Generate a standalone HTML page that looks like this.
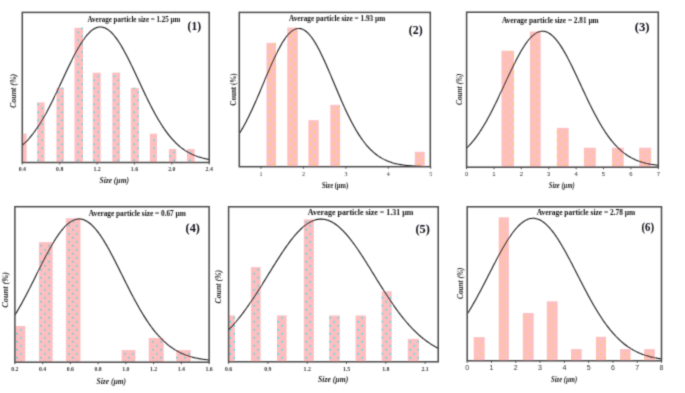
<!DOCTYPE html>
<html><head><meta charset="utf-8"><title>Particle size distributions</title>
<style>
html,body{margin:0;padding:0;background:#fff;width:685px;height:393px;overflow:hidden;}
svg{display:block;font-family:"Liberation Serif",serif;}
</style></head><body>
<svg width="685" height="393" viewBox="0 0 685 393"><defs><pattern id="p1" patternUnits="userSpaceOnUse" width="8" height="8" x="5.7" y="-0.2"><rect width="8" height="8" fill="#fdbfc0"/><circle cx="0.5" cy="0.5" r="0.95" fill="#18d8ea"/><circle cx="4.5" cy="4.5" r="0.95" fill="#18d8ea"/><circle cx="8.5" cy="0.5" r="0.95" fill="#18d8ea"/><circle cx="0.5" cy="8.5" r="0.95" fill="#18d8ea"/><circle cx="8.5" cy="8.5" r="0.95" fill="#18d8ea"/></pattern><pattern id="p2" patternUnits="userSpaceOnUse" width="8" height="8" x="5.8" y="-0.3"><rect width="8" height="8" fill="#fdbfc0"/><circle cx="0.5" cy="0.5" r="0.95" fill="#ffd02a"/><circle cx="4.5" cy="4.5" r="0.95" fill="#ffd02a"/><circle cx="8.5" cy="0.5" r="0.95" fill="#ffd02a"/><circle cx="0.5" cy="8.5" r="0.95" fill="#ffd02a"/><circle cx="8.5" cy="8.5" r="0.95" fill="#ffd02a"/></pattern><pattern id="p3" patternUnits="userSpaceOnUse" width="8" height="8" x="0.9" y="-0.3"><rect width="8" height="8" fill="#fdbfc0"/><circle cx="0.5" cy="0.5" r="0.95" fill="#ffd02a"/><circle cx="4.5" cy="4.5" r="0.95" fill="#ffd02a"/><circle cx="8.5" cy="0.5" r="0.95" fill="#ffd02a"/><circle cx="0.5" cy="8.5" r="0.95" fill="#ffd02a"/><circle cx="8.5" cy="8.5" r="0.95" fill="#ffd02a"/></pattern><pattern id="p4" patternUnits="userSpaceOnUse" width="8" height="8" x="4.5" y="1.2"><rect width="8" height="8" fill="#fdbfc0"/><circle cx="0.5" cy="0.5" r="0.95" fill="#30d0e0"/><circle cx="4.5" cy="4.5" r="0.95" fill="#30d0e0"/><circle cx="8.5" cy="0.5" r="0.95" fill="#30d0e0"/><circle cx="0.5" cy="8.5" r="0.95" fill="#30d0e0"/><circle cx="8.5" cy="8.5" r="0.95" fill="#30d0e0"/></pattern><pattern id="p5" patternUnits="userSpaceOnUse" width="8" height="8" x="5.8" y="1.2"><rect width="8" height="8" fill="#fdbfc0"/><circle cx="0.5" cy="0.5" r="0.95" fill="#18d8ea"/><circle cx="4.5" cy="4.5" r="0.95" fill="#18d8ea"/><circle cx="8.5" cy="0.5" r="0.95" fill="#18d8ea"/><circle cx="0.5" cy="8.5" r="0.95" fill="#18d8ea"/><circle cx="8.5" cy="8.5" r="0.95" fill="#18d8ea"/></pattern><pattern id="p6" patternUnits="userSpaceOnUse" width="8" height="8" x="0.8" y="1.2"><rect width="8" height="8" fill="#fdbfc0"/><circle cx="0.5" cy="0.5" r="0.95" fill="#ffd02a"/><circle cx="4.5" cy="4.5" r="0.95" fill="#ffd02a"/><circle cx="8.5" cy="0.5" r="0.95" fill="#ffd02a"/><circle cx="0.5" cy="8.5" r="0.95" fill="#ffd02a"/><circle cx="8.5" cy="8.5" r="0.95" fill="#ffd02a"/></pattern><clipPath id="cl1"><rect x="22.3" y="12.4" width="186.89999999999998" height="150.1"/></clipPath><clipPath id="cl2"><rect x="239.3" y="12.4" width="191.0" height="154.29999999999998"/></clipPath><clipPath id="cl3"><rect x="466.6" y="12.2" width="191.69999999999993" height="155.0"/></clipPath><clipPath id="cl4"><rect x="14.9" y="206.7" width="194.2" height="155.5"/></clipPath><clipPath id="cl5"><rect x="228.6" y="206.8" width="209.6" height="155.0"/></clipPath><clipPath id="cl6"><rect x="467.2" y="206.8" width="194.3" height="154.0"/></clipPath><filter id="bl" filterUnits="userSpaceOnUse" x="0" y="0" width="685" height="393"><feConvolveMatrix order="3" kernelMatrix="0.02560 0.10880 0.02560 0.10880 0.46240 0.10880 0.02560 0.10880 0.02560" divisor="1"/></filter></defs><rect width="685" height="393" fill="#fff"/><g filter="url(#bl)"><g clip-path="url(#cl1)">
<rect x="22.30" y="133.60" width="4.30" height="28.90" fill="#fdbfc0"/>
<rect x="37.20" y="102.40" width="7.40" height="60.10" fill="#fdbfc0"/>
<rect x="56.50" y="87.70" width="7.40" height="74.80" fill="#fdbfc0"/>
<rect x="74.50" y="27.80" width="8.50" height="134.70" fill="#fdbfc0"/>
<rect x="92.70" y="72.70" width="8.00" height="89.80" fill="#fdbfc0"/>
<rect x="112.30" y="72.60" width="7.70" height="89.90" fill="#fdbfc0"/>
<rect x="130.80" y="87.90" width="8.00" height="74.60" fill="#fdbfc0"/>
<rect x="149.80" y="133.70" width="7.20" height="28.80" fill="#fdbfc0"/>
<rect x="168.90" y="149.00" width="7.40" height="13.50" fill="#fdbfc0"/>
<rect x="186.90" y="149.00" width="7.70" height="13.50" fill="#fdbfc0"/>
<path d="M38.2 104.3h0M38.2 112.3h0M38.2 120.3h0M38.2 128.3h0M38.2 136.3h0M38.2 144.3h0M38.2 152.3h0M38.2 160.3h0M42.2 108.3h0M42.2 116.3h0M42.2 124.3h0M42.2 132.3h0M42.2 140.3h0M42.2 148.3h0M42.2 156.3h0M62.2 88.3h0M62.2 96.3h0M62.2 104.3h0M62.2 112.3h0M62.2 120.3h0M62.2 128.3h0M62.2 136.3h0M62.2 144.3h0M62.2 152.3h0M62.2 160.3h0M58.2 92.3h0M58.2 100.3h0M58.2 108.3h0M58.2 116.3h0M58.2 124.3h0M58.2 132.3h0M58.2 140.3h0M58.2 148.3h0M58.2 156.3h0M78.2 32.3h0M78.2 40.3h0M78.2 48.3h0M78.2 56.3h0M78.2 64.3h0M78.2 72.3h0M78.2 80.3h0M78.2 88.3h0M78.2 96.3h0M78.2 104.3h0M78.2 112.3h0M78.2 120.3h0M78.2 128.3h0M78.2 136.3h0M78.2 144.3h0M78.2 152.3h0M78.2 160.3h0M82.2 28.3h0M82.2 36.3h0M82.2 44.3h0M82.2 52.3h0M82.2 60.3h0M82.2 68.3h0M82.2 76.3h0M82.2 84.3h0M82.2 92.3h0M82.2 100.3h0M82.2 108.3h0M82.2 116.3h0M82.2 124.3h0M82.2 132.3h0M82.2 140.3h0M82.2 148.3h0M82.2 156.3h0M94.2 80.3h0M94.2 88.3h0M94.2 96.3h0M94.2 104.3h0M94.2 112.3h0M94.2 120.3h0M94.2 128.3h0M94.2 136.3h0M94.2 144.3h0M94.2 152.3h0M94.2 160.3h0M98.2 76.3h0M98.2 84.3h0M98.2 92.3h0M98.2 100.3h0M98.2 108.3h0M98.2 116.3h0M98.2 124.3h0M98.2 132.3h0M98.2 140.3h0M98.2 148.3h0M98.2 156.3h0M118.2 80.3h0M118.2 88.3h0M118.2 96.3h0M118.2 104.3h0M118.2 112.3h0M118.2 120.3h0M118.2 128.3h0M118.2 136.3h0M118.2 144.3h0M118.2 152.3h0M118.2 160.3h0M114.2 76.3h0M114.2 84.3h0M114.2 92.3h0M114.2 100.3h0M114.2 108.3h0M114.2 116.3h0M114.2 124.3h0M114.2 132.3h0M114.2 140.3h0M114.2 148.3h0M114.2 156.3h0M134.2 88.3h0M134.2 96.3h0M134.2 104.3h0M134.2 112.3h0M134.2 120.3h0M134.2 128.3h0M134.2 136.3h0M134.2 144.3h0M134.2 152.3h0M134.2 160.3h0M138.2 92.3h0M138.2 100.3h0M138.2 108.3h0M138.2 116.3h0M138.2 124.3h0M138.2 132.3h0M138.2 140.3h0M138.2 148.3h0M138.2 156.3h0M154.2 140.3h0M154.2 148.3h0M154.2 156.3h0M174.2 152.3h0M174.2 160.3h0M170.2 156.3h0M190.2 152.3h0M190.2 160.3h0" stroke="#18d8ea" stroke-width="1.7" stroke-linecap="round"/>
<polyline points="22.30,145.35 23.23,144.51 24.17,143.64 25.10,142.73 26.04,141.79 26.97,140.82 27.91,139.81 28.84,138.77 29.78,137.69 30.71,136.57 31.64,135.43 32.58,134.24 33.51,133.02 34.45,131.76 35.38,130.47 36.32,129.14 37.25,127.77 38.19,126.37 39.12,124.93 40.06,123.45 40.99,121.95 41.92,120.40 42.86,118.82 43.79,117.21 44.73,115.57 45.66,113.89 46.60,112.19 47.53,110.45 48.47,108.68 49.40,106.89 50.33,105.07 51.27,103.23 52.20,101.36 53.14,99.47 54.07,97.56 55.01,95.63 55.94,93.68 56.88,91.72 57.81,89.74 58.75,87.76 59.68,85.76 60.61,83.76 61.55,81.76 62.48,79.75 63.42,77.74 64.35,75.74 65.29,73.74 66.22,71.74 67.16,69.76 68.09,67.79 69.02,65.84 69.96,63.91 70.89,62.00 71.83,60.11 72.76,58.24 73.70,56.41 74.63,54.61 75.57,52.85 76.50,51.12 77.44,49.43 78.37,47.79 79.30,46.19 80.24,44.64 81.17,43.14 82.11,41.70 83.04,40.31 83.98,38.97 84.91,37.70 85.85,36.49 86.78,35.35 87.71,34.27 88.65,33.26 89.58,32.32 90.52,31.46 91.45,30.66 92.39,29.94 93.32,29.30 94.26,28.74 95.19,28.25 96.13,27.84 97.06,27.51 97.99,27.26 98.93,27.10 99.86,27.01 100.80,27.01 101.73,27.09 102.67,27.24 103.60,27.48 104.54,27.80 105.47,28.20 106.40,28.68 107.34,29.24 108.27,29.87 109.21,30.58 110.14,31.37 111.08,32.23 112.01,33.16 112.95,34.16 113.88,35.23 114.82,36.37 115.75,37.57 116.68,38.84 117.62,40.16 118.55,41.55 119.49,42.99 120.42,44.48 121.36,46.02 122.29,47.62 123.23,49.26 124.16,50.94 125.09,52.66 126.03,54.42 126.96,56.22 127.90,58.05 128.83,59.91 129.77,61.79 130.70,63.71 131.64,65.64 132.57,67.59 133.51,69.55 134.44,71.53 135.37,73.53 136.31,75.52 137.24,77.53 138.18,79.54 139.11,81.54 140.05,83.55 140.98,85.55 141.92,87.55 142.85,89.54 143.78,91.51 144.72,93.48 145.65,95.42 146.59,97.36 147.52,99.27 148.46,101.16 149.39,103.03 150.33,104.88 151.26,106.70 152.20,108.50 153.13,110.27 154.06,112.01 155.00,113.72 155.93,115.39 156.87,117.04 157.80,118.66 158.74,120.24 159.67,121.78 160.61,123.30 161.54,124.77 162.47,126.22 163.41,127.62 164.34,128.99 165.28,130.33 166.21,131.63 167.15,132.89 168.08,134.11 169.02,135.30 169.95,136.45 170.89,137.57 171.82,138.65 172.75,139.70 173.69,140.71 174.62,141.69 175.56,142.63 176.49,143.54 177.43,144.42 178.36,145.26 179.30,146.07 180.23,146.86 181.16,147.61 182.10,148.33 183.03,149.02 183.97,149.68 184.90,150.32 185.84,150.92 186.77,151.51 187.71,152.06 188.64,152.59 189.58,153.10 190.51,153.58 191.44,154.04 192.38,154.48 193.31,154.90 194.25,155.30 195.18,155.68 196.12,156.03 197.05,156.37 197.99,156.70 198.92,157.00 199.85,157.29 200.79,157.57 201.72,157.83 202.66,158.07 203.59,158.31 204.53,158.52 205.46,158.73 206.40,158.93 207.33,159.11 208.27,159.28 209.20,159.44" fill="none" stroke="#111111" stroke-width="1.05"/>
</g>
<rect x="22.3" y="12.4" width="186.89999999999998" height="150.1" fill="none" stroke="#4a4a4a" stroke-width="1.5"/>
<line x1="22.30" y1="162.5" x2="22.30" y2="164.5" stroke="#4a4a4a" stroke-width="1"/>
<line x1="59.68" y1="162.5" x2="59.68" y2="164.5" stroke="#4a4a4a" stroke-width="1"/>
<line x1="97.06" y1="162.5" x2="97.06" y2="164.5" stroke="#4a4a4a" stroke-width="1"/>
<line x1="134.44" y1="162.5" x2="134.44" y2="164.5" stroke="#4a4a4a" stroke-width="1"/>
<line x1="171.82" y1="162.5" x2="171.82" y2="164.5" stroke="#4a4a4a" stroke-width="1"/>
<line x1="209.20" y1="162.5" x2="209.20" y2="164.5" stroke="#4a4a4a" stroke-width="1"/>
<text x="22.30" y="170.8" text-anchor="middle" font-family="Liberation Serif" font-weight="bold" font-size="5.8" fill="#333">0.4</text>
<text x="59.68" y="170.8" text-anchor="middle" font-family="Liberation Serif" font-weight="bold" font-size="5.8" fill="#333">0.8</text>
<text x="97.06" y="170.8" text-anchor="middle" font-family="Liberation Serif" font-weight="bold" font-size="5.8" fill="#333">1.2</text>
<text x="134.44" y="170.8" text-anchor="middle" font-family="Liberation Serif" font-weight="bold" font-size="5.8" fill="#333">1.6</text>
<text x="171.82" y="170.8" text-anchor="middle" font-family="Liberation Serif" font-weight="bold" font-size="5.8" fill="#333">2.0</text>
<text x="209.20" y="170.8" text-anchor="middle" font-family="Liberation Serif" font-weight="bold" font-size="5.8" fill="#333">2.4</text>
<text x="87.6" y="21.9" textLength="92.70000000000002" lengthAdjust="spacingAndGlyphs" font-family="Liberation Serif" font-weight="bold" font-size="8.6" fill="#111">Average particle size = 1.25 µm</text>
<text x="187.6" y="29.7" textLength="13.400000000000006" lengthAdjust="spacingAndGlyphs" font-family="Liberation Serif" font-weight="bold" font-size="13" fill="#0a0a14">(1)</text>
<text transform="translate(13.3,90.9) rotate(-90)" x="0" y="2.6" text-anchor="middle" textLength="34" lengthAdjust="spacingAndGlyphs" font-family="Liberation Serif" font-weight="bold" font-style="italic" font-size="8" fill="#222">Count (%)</text>
<text x="99.5" y="183.0" textLength="29.5" lengthAdjust="spacingAndGlyphs" font-family="Liberation Serif" font-weight="bold" font-style="italic" font-size="8" fill="#222">Size (µm)</text>
<g clip-path="url(#cl2)">
<rect x="266.50" y="42.90" width="9.50" height="123.80" fill="#fdbfc0"/>
<rect x="287.30" y="27.60" width="10.50" height="139.10" fill="#fdbfc0"/>
<rect x="308.40" y="120.20" width="10.30" height="46.50" fill="#fdbfc0"/>
<rect x="330.30" y="104.90" width="9.80" height="61.80" fill="#fdbfc0"/>
<rect x="414.80" y="151.80" width="9.90" height="14.90" fill="#fdbfc0"/>
<path d="M270.3 48.2h0M270.3 56.2h0M270.3 64.2h0M270.3 72.2h0M270.3 80.2h0M270.3 88.2h0M270.3 96.2h0M270.3 104.2h0M270.3 112.2h0M270.3 120.2h0M270.3 128.2h0M270.3 136.2h0M270.3 144.2h0M270.3 152.2h0M270.3 160.2h0M274.3 44.2h0M274.3 52.2h0M274.3 60.2h0M274.3 68.2h0M274.3 76.2h0M274.3 84.2h0M274.3 92.2h0M274.3 100.2h0M274.3 108.2h0M274.3 116.2h0M274.3 124.2h0M274.3 132.2h0M274.3 140.2h0M274.3 148.2h0M274.3 156.2h0M274.3 164.2h0M294.3 32.2h0M294.3 40.2h0M294.3 48.2h0M294.3 56.2h0M294.3 64.2h0M294.3 72.2h0M294.3 80.2h0M294.3 88.2h0M294.3 96.2h0M294.3 104.2h0M294.3 112.2h0M294.3 120.2h0M294.3 128.2h0M294.3 136.2h0M294.3 144.2h0M294.3 152.2h0M294.3 160.2h0M290.3 36.2h0M290.3 44.2h0M290.3 52.2h0M290.3 60.2h0M290.3 68.2h0M290.3 76.2h0M290.3 84.2h0M290.3 92.2h0M290.3 100.2h0M290.3 108.2h0M290.3 116.2h0M290.3 124.2h0M290.3 132.2h0M290.3 140.2h0M290.3 148.2h0M290.3 156.2h0M290.3 164.2h0M310.3 128.2h0M310.3 136.2h0M310.3 144.2h0M310.3 152.2h0M310.3 160.2h0M314.3 124.2h0M314.3 132.2h0M314.3 140.2h0M314.3 148.2h0M314.3 156.2h0M314.3 164.2h0M334.3 112.2h0M334.3 120.2h0M334.3 128.2h0M334.3 136.2h0M334.3 144.2h0M334.3 152.2h0M334.3 160.2h0M338.3 108.2h0M338.3 116.2h0M338.3 124.2h0M338.3 132.2h0M338.3 140.2h0M338.3 148.2h0M338.3 156.2h0M338.3 164.2h0M422.3 160.2h0M418.3 156.2h0M418.3 164.2h0" stroke="#ffd02a" stroke-width="1.7" stroke-linecap="round"/>
<polyline points="239.30,133.63 240.26,132.09 241.21,130.50 242.17,128.87 243.12,127.19 244.08,125.47 245.03,123.71 245.99,121.90 246.94,120.05 247.90,118.16 248.85,116.24 249.81,114.27 250.76,112.27 251.72,110.23 252.67,108.17 253.62,106.07 254.58,103.94 255.54,101.78 256.49,99.60 257.44,97.40 258.40,95.18 259.36,92.94 260.31,90.68 261.26,88.42 262.22,86.15 263.18,83.87 264.13,81.60 265.09,79.32 266.04,77.05 267.00,74.79 267.95,72.54 268.91,70.30 269.86,68.09 270.81,65.90 271.77,63.74 272.73,61.61 273.68,59.51 274.63,57.46 275.59,55.44 276.55,53.47 277.50,51.56 278.46,49.69 279.41,47.89 280.37,46.14 281.32,44.46 282.28,42.85 283.23,41.31 284.19,39.84 285.14,38.45 286.10,37.14 287.05,35.92 288.00,34.78 288.96,33.73 289.92,32.77 290.87,31.90 291.82,31.13 292.78,30.45 293.74,29.87 294.69,29.39 295.64,29.01 296.60,28.73 297.56,28.55 298.51,28.47 299.47,28.50 300.42,28.63 301.38,28.85 302.33,29.19 303.29,29.62 304.24,30.15 305.19,30.77 306.15,31.50 307.11,32.32 308.06,33.23 309.01,34.24 309.97,35.34 310.93,36.52 311.88,37.79 312.84,39.13 313.79,40.56 314.75,42.07 315.70,43.64 316.66,45.29 317.61,47.00 318.56,48.78 319.52,50.61 320.48,52.50 321.43,54.45 322.38,56.44 323.34,58.47 324.30,60.55 325.25,62.66 326.21,64.81 327.16,66.99 328.12,69.19 329.07,71.41 330.02,73.65 330.98,75.91 331.94,78.18 332.89,80.45 333.85,82.73 334.80,85.01 335.75,87.28 336.71,89.55 337.67,91.81 338.62,94.05 339.58,96.28 340.53,98.50 341.49,100.69 342.44,102.86 343.39,105.00 344.35,107.11 345.31,109.20 346.26,111.25 347.22,113.27 348.17,115.25 349.12,117.20 350.08,119.11 351.04,120.98 351.99,122.80 352.94,124.59 353.90,126.33 354.86,128.03 355.81,129.69 356.76,131.30 357.72,132.86 358.68,134.38 359.63,135.85 360.59,137.28 361.54,138.67 362.50,140.00 363.45,141.30 364.41,142.55 365.36,143.75 366.31,144.91 367.27,146.03 368.23,147.10 369.18,148.13 370.13,149.12 371.09,150.07 372.05,150.98 373.00,151.85 373.96,152.69 374.91,153.48 375.87,154.24 376.82,154.97 377.77,155.66 378.73,156.32 379.69,156.94 380.64,157.54 381.60,158.10 382.55,158.64 383.50,159.15 384.46,159.63 385.42,160.08 386.37,160.52 387.33,160.92 388.28,161.31 389.24,161.67 390.19,162.01 391.14,162.33 392.10,162.64 393.06,162.92 394.01,163.19 394.97,163.44 395.92,163.67 396.88,163.89 397.83,164.10 398.79,164.29 399.74,164.47 400.70,164.64 401.65,164.80 402.61,164.94 403.56,165.08 404.51,165.21 405.47,165.32 406.43,165.43 407.38,165.53 408.34,165.63 409.29,165.72 410.25,165.80 411.20,165.87 412.15,165.94 413.11,166.00 414.06,166.06 415.02,166.12 415.98,166.17 416.93,166.21 417.88,166.26 418.84,166.30 419.80,166.33 420.75,166.37 421.71,166.40 422.66,166.42 423.62,166.45 424.57,166.47 425.52,166.49 426.48,166.51 427.44,166.53 428.39,166.55 429.35,166.56 430.30,166.57" fill="none" stroke="#111111" stroke-width="1.05"/>
</g>
<rect x="239.3" y="12.4" width="191.0" height="154.29999999999998" fill="none" stroke="#4a4a4a" stroke-width="1.5"/>
<line x1="261.00" y1="166.7" x2="261.00" y2="168.7" stroke="#4a4a4a" stroke-width="1"/>
<line x1="303.45" y1="166.7" x2="303.45" y2="168.7" stroke="#4a4a4a" stroke-width="1"/>
<line x1="345.90" y1="166.7" x2="345.90" y2="168.7" stroke="#4a4a4a" stroke-width="1"/>
<line x1="388.35" y1="166.7" x2="388.35" y2="168.7" stroke="#4a4a4a" stroke-width="1"/>
<line x1="430.80" y1="166.7" x2="430.80" y2="168.7" stroke="#4a4a4a" stroke-width="1"/>
<text x="261.00" y="175.6" text-anchor="middle" font-family="Liberation Serif" font-size="6" fill="#333">1</text>
<text x="303.45" y="175.6" text-anchor="middle" font-family="Liberation Serif" font-size="6" fill="#333">2</text>
<text x="345.90" y="175.6" text-anchor="middle" font-family="Liberation Serif" font-size="6" fill="#333">3</text>
<text x="388.35" y="175.6" text-anchor="middle" font-family="Liberation Serif" font-size="6" fill="#333">4</text>
<text x="430.80" y="175.6" text-anchor="middle" font-family="Liberation Serif" font-size="6" fill="#333">5</text>
<text x="289.0" y="20.7" textLength="96.19999999999999" lengthAdjust="spacingAndGlyphs" font-family="Liberation Serif" font-weight="bold" font-size="8.6" fill="#111">Average particle size = 1.93 µm</text>
<text x="408.8" y="33.6" textLength="13.800000000000011" lengthAdjust="spacingAndGlyphs" font-family="Liberation Serif" font-weight="bold" font-size="13" fill="#0a0a14">(2)</text>
<text transform="translate(233.0,89.5) rotate(-90)" x="0" y="2.6" text-anchor="middle" textLength="32.4" lengthAdjust="spacingAndGlyphs" font-family="Liberation Serif" font-weight="bold"  font-size="8" fill="#222">Count (%)</text>
<text x="321.9" y="188.2" textLength="26.30000000000001" lengthAdjust="spacingAndGlyphs" font-family="Liberation Serif" font-weight="bold"  font-size="8" fill="#222">Size (µm)</text>
<g clip-path="url(#cl3)">
<rect x="501.50" y="50.70" width="12.50" height="116.50" fill="#fdbfc0"/>
<rect x="529.90" y="31.60" width="10.80" height="135.60" fill="#fdbfc0"/>
<rect x="556.90" y="127.90" width="11.80" height="39.30" fill="#fdbfc0"/>
<rect x="583.90" y="147.70" width="11.90" height="19.50" fill="#fdbfc0"/>
<rect x="612.00" y="147.70" width="11.70" height="19.50" fill="#fdbfc0"/>
<rect x="639.20" y="147.70" width="11.90" height="19.50" fill="#fdbfc0"/>
<path d="M505.4 56.2h0M505.4 64.2h0M505.4 72.2h0M505.4 80.2h0M505.4 88.2h0M505.4 96.2h0M505.4 104.2h0M505.4 112.2h0M505.4 120.2h0M505.4 128.2h0M505.4 136.2h0M505.4 144.2h0M505.4 152.2h0M505.4 160.2h0M513.4 56.2h0M513.4 64.2h0M513.4 72.2h0M513.4 80.2h0M513.4 88.2h0M513.4 96.2h0M513.4 104.2h0M513.4 112.2h0M513.4 120.2h0M513.4 128.2h0M513.4 136.2h0M513.4 144.2h0M513.4 152.2h0M513.4 160.2h0M509.4 52.2h0M509.4 60.2h0M509.4 68.2h0M509.4 76.2h0M509.4 84.2h0M509.4 92.2h0M509.4 100.2h0M509.4 108.2h0M509.4 116.2h0M509.4 124.2h0M509.4 132.2h0M509.4 140.2h0M509.4 148.2h0M509.4 156.2h0M509.4 164.2h0M537.4 40.2h0M537.4 48.2h0M537.4 56.2h0M537.4 64.2h0M537.4 72.2h0M537.4 80.2h0M537.4 88.2h0M537.4 96.2h0M537.4 104.2h0M537.4 112.2h0M537.4 120.2h0M537.4 128.2h0M537.4 136.2h0M537.4 144.2h0M537.4 152.2h0M537.4 160.2h0M533.4 36.2h0M533.4 44.2h0M533.4 52.2h0M533.4 60.2h0M533.4 68.2h0M533.4 76.2h0M533.4 84.2h0M533.4 92.2h0M533.4 100.2h0M533.4 108.2h0M533.4 116.2h0M533.4 124.2h0M533.4 132.2h0M533.4 140.2h0M533.4 148.2h0M533.4 156.2h0M533.4 164.2h0M561.4 136.2h0M561.4 144.2h0M561.4 152.2h0M561.4 160.2h0M557.4 132.2h0M557.4 140.2h0M557.4 148.2h0M557.4 156.2h0M557.4 164.2h0M565.4 132.2h0M565.4 140.2h0M565.4 148.2h0M565.4 156.2h0M565.4 164.2h0M585.4 152.2h0M585.4 160.2h0M593.4 152.2h0M593.4 160.2h0M589.4 156.2h0M589.4 164.2h0M617.4 152.2h0M617.4 160.2h0M613.4 156.2h0M613.4 164.2h0M621.4 156.2h0M621.4 164.2h0M641.4 152.2h0M641.4 160.2h0M649.4 152.2h0M649.4 160.2h0M645.4 156.2h0M645.4 164.2h0" stroke="#ffd02a" stroke-width="1.7" stroke-linecap="round"/>
<polyline points="466.60,148.18 467.56,147.23 468.52,146.25 469.48,145.23 470.43,144.18 471.39,143.09 472.35,141.96 473.31,140.79 474.27,139.59 475.23,138.35 476.19,137.07 477.14,135.75 478.10,134.39 479.06,132.99 480.02,131.56 480.98,130.09 481.94,128.58 482.89,127.03 483.85,125.45 484.81,123.83 485.77,122.17 486.73,120.48 487.69,118.76 488.65,117.00 489.60,115.21 490.56,113.39 491.52,111.54 492.48,109.67 493.44,107.76 494.40,105.84 495.36,103.88 496.31,101.91 497.27,99.92 498.23,97.91 499.19,95.88 500.15,93.84 501.11,91.79 502.06,89.73 503.02,87.67 503.98,85.60 504.94,83.52 505.90,81.45 506.86,79.39 507.82,77.33 508.77,75.28 509.73,73.24 510.69,71.22 511.65,69.21 512.61,67.23 513.57,65.27 514.52,63.34 515.48,61.44 516.44,59.57 517.40,57.74 518.36,55.94 519.32,54.19 520.28,52.48 521.23,50.83 522.19,49.22 523.15,47.66 524.11,46.16 525.07,44.72 526.03,43.34 526.99,42.03 527.94,40.78 528.90,39.60 529.86,38.49 530.82,37.45 531.78,36.48 532.74,35.60 533.69,34.79 534.65,34.06 535.61,33.41 536.57,32.84 537.53,32.35 538.49,31.95 539.45,31.64 540.40,31.41 541.36,31.26 542.32,31.20 543.28,31.23 544.24,31.34 545.20,31.54 546.16,31.83 547.11,32.19 548.07,32.65 549.03,33.19 549.99,33.80 550.95,34.51 551.91,35.29 552.87,36.14 553.82,37.08 554.78,38.09 555.74,39.17 556.70,40.33 557.66,41.55 558.62,42.85 559.57,44.20 560.53,45.62 561.49,47.10 562.45,48.63 563.41,50.22 564.37,51.86 565.33,53.55 566.28,55.29 567.24,57.06 568.20,58.88 569.16,60.74 570.12,62.63 571.08,64.55 572.03,66.50 572.99,68.47 573.95,70.47 574.91,72.49 575.87,74.52 576.83,76.56 577.79,78.62 578.74,80.68 579.70,82.75 580.66,84.82 581.62,86.90 582.58,88.96 583.54,91.03 584.50,93.08 585.45,95.12 586.41,97.15 587.37,99.17 588.33,101.17 589.29,103.15 590.25,105.11 591.20,107.05 592.16,108.96 593.12,110.85 594.08,112.71 595.04,114.54 596.00,116.34 596.96,118.11 597.91,119.84 598.87,121.55 599.83,123.22 600.79,124.85 601.75,126.45 602.71,128.01 603.67,129.53 604.62,131.02 605.58,132.46 606.54,133.88 607.50,135.25 608.46,136.58 609.42,137.88 610.38,139.13 611.33,140.35 612.29,141.53 613.25,142.67 614.21,143.78 615.17,144.85 616.13,145.88 617.08,146.87 618.04,147.83 619.00,148.75 619.96,149.64 620.92,150.50 621.88,151.32 622.84,152.11 623.79,152.87 624.75,153.59 625.71,154.29 626.67,154.95 627.63,155.59 628.59,156.20 629.54,156.78 630.50,157.33 631.46,157.86 632.42,158.36 633.38,158.84 634.34,159.30 635.30,159.73 636.25,160.15 637.21,160.54 638.17,160.91 639.13,161.26 640.09,161.59 641.05,161.91 642.01,162.21 642.96,162.49 643.92,162.76 644.88,163.01 645.84,163.24 646.80,163.47 647.76,163.68 648.71,163.88 649.67,164.06 650.63,164.24 651.59,164.40 652.55,164.56 653.51,164.70 654.47,164.84 655.42,164.96 656.38,165.08 657.34,165.19 658.30,165.30" fill="none" stroke="#111111" stroke-width="1.05"/>
</g>
<rect x="466.6" y="12.2" width="191.69999999999993" height="155.0" fill="none" stroke="#4a4a4a" stroke-width="1.5"/>
<line x1="466.60" y1="167.2" x2="466.60" y2="169.2" stroke="#4a4a4a" stroke-width="1"/>
<line x1="493.99" y1="167.2" x2="493.99" y2="169.2" stroke="#4a4a4a" stroke-width="1"/>
<line x1="521.37" y1="167.2" x2="521.37" y2="169.2" stroke="#4a4a4a" stroke-width="1"/>
<line x1="548.76" y1="167.2" x2="548.76" y2="169.2" stroke="#4a4a4a" stroke-width="1"/>
<line x1="576.14" y1="167.2" x2="576.14" y2="169.2" stroke="#4a4a4a" stroke-width="1"/>
<line x1="603.53" y1="167.2" x2="603.53" y2="169.2" stroke="#4a4a4a" stroke-width="1"/>
<line x1="630.91" y1="167.2" x2="630.91" y2="169.2" stroke="#4a4a4a" stroke-width="1"/>
<line x1="658.30" y1="167.2" x2="658.30" y2="169.2" stroke="#4a4a4a" stroke-width="1"/>
<text x="466.60" y="175.5" text-anchor="middle" font-family="Liberation Sans" font-size="6" fill="#333">0</text>
<text x="493.99" y="175.5" text-anchor="middle" font-family="Liberation Sans" font-size="6" fill="#333">1</text>
<text x="521.37" y="175.5" text-anchor="middle" font-family="Liberation Sans" font-size="6" fill="#333">2</text>
<text x="548.76" y="175.5" text-anchor="middle" font-family="Liberation Sans" font-size="6" fill="#333">3</text>
<text x="576.14" y="175.5" text-anchor="middle" font-family="Liberation Sans" font-size="6" fill="#333">4</text>
<text x="603.53" y="175.5" text-anchor="middle" font-family="Liberation Sans" font-size="6" fill="#333">5</text>
<text x="630.91" y="175.5" text-anchor="middle" font-family="Liberation Sans" font-size="6" fill="#333">6</text>
<text x="658.30" y="175.5" text-anchor="middle" font-family="Liberation Sans" font-size="6" fill="#333">7</text>
<text x="501.9" y="22.8" textLength="96.80000000000007" lengthAdjust="spacingAndGlyphs" font-family="Liberation Serif" font-weight="bold" font-size="8.6" fill="#111">Average particle size = 2.81 µm</text>
<text x="634.8" y="30.9" textLength="14.800000000000068" lengthAdjust="spacingAndGlyphs" font-family="Liberation Serif" font-weight="bold" font-size="13" fill="#0a0a14">(3)</text>
<text transform="translate(459.5,89.3) rotate(-90)" x="0" y="2.6" text-anchor="middle" textLength="31.3" lengthAdjust="spacingAndGlyphs" font-family="Liberation Serif" font-weight="bold" font-style="italic" font-size="8" fill="#222">Count (%)</text>
<text x="548.8" y="187.6" textLength="25.90000000000009" lengthAdjust="spacingAndGlyphs" font-family="Liberation Serif" font-weight="bold" font-style="italic" font-size="8" fill="#222">Size (µm)</text>
<g clip-path="url(#cl4)">
<rect x="14.90" y="326.00" width="10.40" height="36.20" fill="#fdbfc0"/>
<rect x="38.90" y="242.20" width="13.70" height="120.00" fill="#fdbfc0"/>
<rect x="65.90" y="218.30" width="14.60" height="143.90" fill="#fdbfc0"/>
<rect x="121.60" y="350.10" width="13.80" height="12.10" fill="#fdbfc0"/>
<rect x="148.70" y="338.00" width="15.00" height="24.20" fill="#fdbfc0"/>
<rect x="176.30" y="350.10" width="14.40" height="12.10" fill="#fdbfc0"/>
<path d="M21.0 329.7h0M21.0 337.7h0M21.0 345.7h0M21.0 353.7h0M21.0 361.7h0M17.0 333.7h0M17.0 341.7h0M17.0 349.7h0M17.0 357.7h0M45.0 249.7h0M45.0 257.7h0M45.0 265.7h0M45.0 273.7h0M45.0 281.7h0M45.0 289.7h0M45.0 297.7h0M45.0 305.7h0M45.0 313.7h0M45.0 321.7h0M45.0 329.7h0M45.0 337.7h0M45.0 345.7h0M45.0 353.7h0M45.0 361.7h0M41.0 245.7h0M41.0 253.7h0M41.0 261.7h0M41.0 269.7h0M41.0 277.7h0M41.0 285.7h0M41.0 293.7h0M41.0 301.7h0M41.0 309.7h0M41.0 317.7h0M41.0 325.7h0M41.0 333.7h0M41.0 341.7h0M41.0 349.7h0M41.0 357.7h0M49.0 245.7h0M49.0 253.7h0M49.0 261.7h0M49.0 269.7h0M49.0 277.7h0M49.0 285.7h0M49.0 293.7h0M49.0 301.7h0M49.0 309.7h0M49.0 317.7h0M49.0 325.7h0M49.0 333.7h0M49.0 341.7h0M49.0 349.7h0M49.0 357.7h0M69.0 225.7h0M69.0 233.7h0M69.0 241.7h0M69.0 249.7h0M69.0 257.7h0M69.0 265.7h0M69.0 273.7h0M69.0 281.7h0M69.0 289.7h0M69.0 297.7h0M69.0 305.7h0M69.0 313.7h0M69.0 321.7h0M69.0 329.7h0M69.0 337.7h0M69.0 345.7h0M69.0 353.7h0M69.0 361.7h0M77.0 225.7h0M77.0 233.7h0M77.0 241.7h0M77.0 249.7h0M77.0 257.7h0M77.0 265.7h0M77.0 273.7h0M77.0 281.7h0M77.0 289.7h0M77.0 297.7h0M77.0 305.7h0M77.0 313.7h0M77.0 321.7h0M77.0 329.7h0M77.0 337.7h0M77.0 345.7h0M77.0 353.7h0M77.0 361.7h0M73.0 221.7h0M73.0 229.7h0M73.0 237.7h0M73.0 245.7h0M73.0 253.7h0M73.0 261.7h0M73.0 269.7h0M73.0 277.7h0M73.0 285.7h0M73.0 293.7h0M73.0 301.7h0M73.0 309.7h0M73.0 317.7h0M73.0 325.7h0M73.0 333.7h0M73.0 341.7h0M73.0 349.7h0M73.0 357.7h0M125.0 353.7h0M125.0 361.7h0M133.0 353.7h0M133.0 361.7h0M129.0 357.7h0M157.0 345.7h0M157.0 353.7h0M157.0 361.7h0M153.0 341.7h0M153.0 349.7h0M153.0 357.7h0M161.0 341.7h0M161.0 349.7h0M161.0 357.7h0M181.0 353.7h0M181.0 361.7h0M189.0 353.7h0M189.0 361.7h0M177.0 357.7h0M185.0 357.7h0" stroke="#30d0e0" stroke-width="1.7" stroke-linecap="round"/>
<polyline points="14.90,315.08 15.87,313.49 16.84,311.87 17.81,310.22 18.78,308.55 19.76,306.85 20.73,305.13 21.70,303.38 22.67,301.60 23.64,299.81 24.61,297.99 25.58,296.15 26.55,294.30 27.52,292.42 28.49,290.53 29.46,288.63 30.44,286.71 31.41,284.79 32.38,282.85 33.35,280.91 34.32,278.96 35.29,277.00 36.26,275.05 37.23,273.09 38.20,271.14 39.17,269.19 40.15,267.24 41.12,265.31 42.09,263.38 43.06,261.47 44.03,259.57 45.00,257.69 45.97,255.83 46.94,254.00 47.91,252.18 48.88,250.39 49.86,248.63 50.83,246.91 51.80,245.21 52.77,243.55 53.74,241.93 54.71,240.34 55.68,238.80 56.65,237.31 57.62,235.86 58.59,234.45 59.57,233.10 60.54,231.80 61.51,230.55 62.48,229.36 63.45,228.23 64.42,227.16 65.39,226.14 66.36,225.19 67.33,224.30 68.31,223.48 69.28,222.72 70.25,222.04 71.22,221.42 72.19,220.86 73.16,220.38 74.13,219.97 75.10,219.63 76.07,219.37 77.04,219.17 78.02,219.05 78.99,219.00 79.96,219.03 80.93,219.12 81.90,219.29 82.87,219.53 83.84,219.85 84.81,220.24 85.78,220.69 86.75,221.22 87.73,221.82 88.70,222.48 89.67,223.22 90.64,224.02 91.61,224.88 92.58,225.81 93.55,226.81 94.52,227.86 95.49,228.97 96.46,230.15 97.44,231.37 98.41,232.66 99.38,233.99 100.35,235.38 101.32,236.81 102.29,238.29 103.26,239.82 104.23,241.39 105.20,243.00 106.17,244.64 107.15,246.33 108.12,248.05 109.09,249.80 110.06,251.57 111.03,253.38 112.00,255.21 112.97,257.06 113.94,258.94 114.91,260.83 115.88,262.74 116.86,264.66 117.83,266.59 118.80,268.53 119.77,270.48 120.74,272.43 121.71,274.38 122.68,276.34 123.65,278.30 124.62,280.25 125.59,282.19 126.57,284.13 127.54,286.06 128.51,287.98 129.48,289.89 130.45,291.79 131.42,293.67 132.39,295.53 133.36,297.37 134.33,299.20 135.30,301.00 136.28,302.78 137.25,304.54 138.22,306.27 139.19,307.98 140.16,309.66 141.13,311.32 142.10,312.94 143.07,314.54 144.04,316.11 145.01,317.65 145.99,319.16 146.96,320.64 147.93,322.08 148.90,323.50 149.87,324.88 150.84,326.23 151.81,327.55 152.78,328.83 153.75,330.08 154.72,331.31 155.69,332.49 156.67,333.65 157.64,334.77 158.61,335.86 159.58,336.92 160.55,337.95 161.52,338.94 162.49,339.91 163.46,340.84 164.43,341.75 165.41,342.62 166.38,343.47 167.35,344.28 168.32,345.07 169.29,345.83 170.26,346.56 171.23,347.26 172.20,347.94 173.17,348.59 174.14,349.22 175.11,349.83 176.09,350.41 177.06,350.96 178.03,351.49 179.00,352.01 179.97,352.49 180.94,352.96 181.91,353.41 182.88,353.84 183.85,354.25 184.83,354.64 185.80,355.02 186.77,355.37 187.74,355.71 188.71,356.04 189.68,356.34 190.65,356.64 191.62,356.92 192.59,357.18 193.56,357.43 194.53,357.67 195.51,357.90 196.48,358.11 197.45,358.32 198.42,358.51 199.39,358.69 200.36,358.87 201.33,359.03 202.30,359.19 203.27,359.33 204.25,359.47 205.22,359.60 206.19,359.72 207.16,359.84 208.13,359.95 209.10,360.05" fill="none" stroke="#111111" stroke-width="1.05"/>
</g>
<rect x="14.9" y="206.7" width="194.2" height="155.5" fill="none" stroke="#4a4a4a" stroke-width="1.5"/>
<line x1="14.90" y1="362.2" x2="14.90" y2="364.2" stroke="#4a4a4a" stroke-width="1"/>
<line x1="42.64" y1="362.2" x2="42.64" y2="364.2" stroke="#4a4a4a" stroke-width="1"/>
<line x1="70.39" y1="362.2" x2="70.39" y2="364.2" stroke="#4a4a4a" stroke-width="1"/>
<line x1="98.13" y1="362.2" x2="98.13" y2="364.2" stroke="#4a4a4a" stroke-width="1"/>
<line x1="125.87" y1="362.2" x2="125.87" y2="364.2" stroke="#4a4a4a" stroke-width="1"/>
<line x1="153.61" y1="362.2" x2="153.61" y2="364.2" stroke="#4a4a4a" stroke-width="1"/>
<line x1="181.36" y1="362.2" x2="181.36" y2="364.2" stroke="#4a4a4a" stroke-width="1"/>
<line x1="209.10" y1="362.2" x2="209.10" y2="364.2" stroke="#4a4a4a" stroke-width="1"/>
<text x="14.90" y="370.7" text-anchor="middle" font-family="Liberation Serif" font-weight="bold" font-size="5.8" fill="#333">0.2</text>
<text x="42.64" y="370.7" text-anchor="middle" font-family="Liberation Serif" font-weight="bold" font-size="5.8" fill="#333">0.4</text>
<text x="70.39" y="370.7" text-anchor="middle" font-family="Liberation Serif" font-weight="bold" font-size="5.8" fill="#333">0.6</text>
<text x="98.13" y="370.7" text-anchor="middle" font-family="Liberation Serif" font-weight="bold" font-size="5.8" fill="#333">0.8</text>
<text x="125.87" y="370.7" text-anchor="middle" font-family="Liberation Serif" font-weight="bold" font-size="5.8" fill="#333">1.0</text>
<text x="153.61" y="370.7" text-anchor="middle" font-family="Liberation Serif" font-weight="bold" font-size="5.8" fill="#333">1.2</text>
<text x="181.36" y="370.7" text-anchor="middle" font-family="Liberation Serif" font-weight="bold" font-size="5.8" fill="#333">1.4</text>
<text x="209.10" y="370.7" text-anchor="middle" font-family="Liberation Serif" font-weight="bold" font-size="5.8" fill="#333">1.6</text>
<text x="88.8" y="215.8" textLength="97.10000000000001" lengthAdjust="spacingAndGlyphs" font-family="Liberation Serif" font-weight="bold" font-size="8.6" fill="#111">Average particle size = 0.67 µm</text>
<text x="185.6" y="231.8" textLength="14.300000000000011" lengthAdjust="spacingAndGlyphs" font-family="Liberation Serif" font-weight="bold" font-size="13" fill="#0a0a14">(4)</text>
<text transform="translate(5.4,289.9) rotate(-90)" x="0" y="2.6" text-anchor="middle" textLength="35.6" lengthAdjust="spacingAndGlyphs" font-family="Liberation Serif" font-weight="bold" font-style="italic" font-size="8" fill="#222">Count (%)</text>
<text x="96.6" y="383.5" textLength="29.400000000000006" lengthAdjust="spacingAndGlyphs" font-family="Liberation Serif" font-weight="bold" font-style="italic" font-size="8" fill="#222">Size (µm)</text>
<g clip-path="url(#cl5)">
<rect x="228.60" y="315.40" width="6.20" height="46.40" fill="#fdbfc0"/>
<rect x="250.90" y="267.10" width="9.70" height="94.70" fill="#fdbfc0"/>
<rect x="277.00" y="315.40" width="9.60" height="46.40" fill="#fdbfc0"/>
<rect x="303.80" y="219.40" width="10.00" height="142.40" fill="#fdbfc0"/>
<rect x="329.20" y="315.50" width="10.60" height="46.30" fill="#fdbfc0"/>
<rect x="355.60" y="315.50" width="10.30" height="46.30" fill="#fdbfc0"/>
<rect x="381.70" y="291.30" width="10.00" height="70.50" fill="#fdbfc0"/>
<rect x="407.80" y="338.90" width="11.10" height="22.90" fill="#fdbfc0"/>
<path d="M230.3 321.7h0M230.3 329.7h0M230.3 337.7h0M230.3 345.7h0M230.3 353.7h0M234.3 317.7h0M234.3 325.7h0M234.3 333.7h0M234.3 341.7h0M234.3 349.7h0M234.3 357.7h0M254.3 273.7h0M254.3 281.7h0M254.3 289.7h0M254.3 297.7h0M254.3 305.7h0M254.3 313.7h0M254.3 321.7h0M254.3 329.7h0M254.3 337.7h0M254.3 345.7h0M254.3 353.7h0M258.3 269.7h0M258.3 277.7h0M258.3 285.7h0M258.3 293.7h0M258.3 301.7h0M258.3 309.7h0M258.3 317.7h0M258.3 325.7h0M258.3 333.7h0M258.3 341.7h0M258.3 349.7h0M258.3 357.7h0M278.3 321.7h0M278.3 329.7h0M278.3 337.7h0M278.3 345.7h0M278.3 353.7h0M282.3 317.7h0M282.3 325.7h0M282.3 333.7h0M282.3 341.7h0M282.3 349.7h0M282.3 357.7h0M310.3 225.7h0M310.3 233.7h0M310.3 241.7h0M310.3 249.7h0M310.3 257.7h0M310.3 265.7h0M310.3 273.7h0M310.3 281.7h0M310.3 289.7h0M310.3 297.7h0M310.3 305.7h0M310.3 313.7h0M310.3 321.7h0M310.3 329.7h0M310.3 337.7h0M310.3 345.7h0M310.3 353.7h0M306.3 221.7h0M306.3 229.7h0M306.3 237.7h0M306.3 245.7h0M306.3 253.7h0M306.3 261.7h0M306.3 269.7h0M306.3 277.7h0M306.3 285.7h0M306.3 293.7h0M306.3 301.7h0M306.3 309.7h0M306.3 317.7h0M306.3 325.7h0M306.3 333.7h0M306.3 341.7h0M306.3 349.7h0M306.3 357.7h0M334.3 321.7h0M334.3 329.7h0M334.3 337.7h0M334.3 345.7h0M334.3 353.7h0M330.3 317.7h0M330.3 325.7h0M330.3 333.7h0M330.3 341.7h0M330.3 349.7h0M330.3 357.7h0M338.3 317.7h0M338.3 325.7h0M338.3 333.7h0M338.3 341.7h0M338.3 349.7h0M338.3 357.7h0M358.3 321.7h0M358.3 329.7h0M358.3 337.7h0M358.3 345.7h0M358.3 353.7h0M362.3 317.7h0M362.3 325.7h0M362.3 333.7h0M362.3 341.7h0M362.3 349.7h0M362.3 357.7h0M382.3 297.7h0M382.3 305.7h0M382.3 313.7h0M382.3 321.7h0M382.3 329.7h0M382.3 337.7h0M382.3 345.7h0M382.3 353.7h0M390.3 297.7h0M390.3 305.7h0M390.3 313.7h0M390.3 321.7h0M390.3 329.7h0M390.3 337.7h0M390.3 345.7h0M390.3 353.7h0M386.3 293.7h0M386.3 301.7h0M386.3 309.7h0M386.3 317.7h0M386.3 325.7h0M386.3 333.7h0M386.3 341.7h0M386.3 349.7h0M386.3 357.7h0M414.3 345.7h0M414.3 353.7h0M410.3 341.7h0M410.3 349.7h0M410.3 357.7h0M418.3 341.7h0M418.3 349.7h0M418.3 357.7h0" stroke="#18d8ea" stroke-width="1.7" stroke-linecap="round"/>
<polyline points="228.60,329.81 229.65,328.74 230.70,327.64 231.74,326.52 232.79,325.37 233.84,324.20 234.89,323.00 235.94,321.78 236.98,320.53 238.03,319.27 239.08,317.97 240.13,316.66 241.18,315.32 242.22,313.96 243.27,312.57 244.32,311.16 245.37,309.74 246.42,308.29 247.46,306.82 248.51,305.33 249.56,303.82 250.61,302.29 251.66,300.75 252.70,299.19 253.75,297.61 254.80,296.02 255.85,294.41 256.90,292.79 257.94,291.15 258.99,289.51 260.04,287.85 261.09,286.18 262.14,284.51 263.18,282.83 264.23,281.14 265.28,279.45 266.33,277.75 267.38,276.05 268.42,274.35 269.47,272.65 270.52,270.96 271.57,269.26 272.62,267.57 273.66,265.89 274.71,264.21 275.76,262.54 276.81,260.88 277.86,259.23 278.90,257.60 279.95,255.98 281.00,254.38 282.05,252.79 283.10,251.23 284.14,249.68 285.19,248.16 286.24,246.66 287.29,245.19 288.34,243.74 289.38,242.32 290.43,240.93 291.48,239.58 292.53,238.25 293.58,236.96 294.62,235.71 295.67,234.49 296.72,233.31 297.77,232.17 298.82,231.07 299.86,230.01 300.91,228.99 301.96,228.02 303.01,227.09 304.06,226.21 305.10,225.38 306.15,224.60 307.20,223.86 308.25,223.18 309.30,222.54 310.34,221.96 311.39,221.43 312.44,220.95 313.49,220.53 314.54,220.16 315.58,219.84 316.63,219.58 317.68,219.38 318.73,219.23 319.78,219.13 320.82,219.09 321.87,219.11 322.92,219.18 323.97,219.31 325.02,219.49 326.06,219.72 327.11,220.02 328.16,220.36 329.21,220.76 330.26,221.22 331.30,221.73 332.35,222.29 333.40,222.90 334.45,223.56 335.50,224.28 336.54,225.04 337.59,225.85 338.64,226.71 339.69,227.62 340.74,228.57 341.78,229.56 342.83,230.60 343.88,231.69 344.93,232.81 345.98,233.97 347.02,235.18 348.07,236.42 349.12,237.69 350.17,239.00 351.22,240.35 352.26,241.72 353.31,243.13 354.36,244.56 355.41,246.02 356.46,247.51 357.50,249.02 358.55,250.56 359.60,252.12 360.65,253.69 361.70,255.29 362.74,256.90 363.79,258.53 364.84,260.17 365.89,261.82 366.94,263.49 367.98,265.16 369.03,266.84 370.08,268.53 371.13,270.22 372.18,271.92 373.22,273.62 374.27,275.32 375.32,277.02 376.37,278.72 377.42,280.41 378.46,282.10 379.51,283.78 380.56,285.46 381.61,287.13 382.66,288.79 383.70,290.44 384.75,292.08 385.80,293.71 386.85,295.32 387.90,296.92 388.94,298.51 389.99,300.08 391.04,301.63 392.09,303.16 393.14,304.68 394.18,306.18 395.23,307.66 396.28,309.11 397.33,310.55 398.38,311.97 399.42,313.36 400.47,314.73 401.52,316.08 402.57,317.41 403.62,318.71 404.66,319.99 405.71,321.25 406.76,322.48 407.81,323.68 408.86,324.87 409.90,326.02 410.95,327.16 412.00,328.26 413.05,329.35 414.10,330.41 415.14,331.44 416.19,332.45 417.24,333.43 418.29,334.39 419.34,335.33 420.38,336.24 421.43,337.13 422.48,337.99 423.53,338.83 424.58,339.65 425.62,340.44 426.67,341.21 427.72,341.96 428.77,342.68 429.82,343.39 430.86,344.07 431.91,344.73 432.96,345.37 434.01,345.99 435.06,346.59 436.10,347.17 437.15,347.73 438.20,348.27" fill="none" stroke="#111111" stroke-width="1.05"/>
</g>
<rect x="228.6" y="206.8" width="209.6" height="155.0" fill="none" stroke="#4a4a4a" stroke-width="1.5"/>
<line x1="228.60" y1="361.8" x2="228.60" y2="363.8" stroke="#4a4a4a" stroke-width="1"/>
<line x1="267.90" y1="361.8" x2="267.90" y2="363.8" stroke="#4a4a4a" stroke-width="1"/>
<line x1="307.20" y1="361.8" x2="307.20" y2="363.8" stroke="#4a4a4a" stroke-width="1"/>
<line x1="346.50" y1="361.8" x2="346.50" y2="363.8" stroke="#4a4a4a" stroke-width="1"/>
<line x1="385.80" y1="361.8" x2="385.80" y2="363.8" stroke="#4a4a4a" stroke-width="1"/>
<line x1="425.10" y1="361.8" x2="425.10" y2="363.8" stroke="#4a4a4a" stroke-width="1"/>
<text x="228.60" y="370.5" text-anchor="middle" font-family="Liberation Serif" font-weight="bold" font-size="5.8" fill="#333">0.6</text>
<text x="267.90" y="370.5" text-anchor="middle" font-family="Liberation Serif" font-weight="bold" font-size="5.8" fill="#333">0.9</text>
<text x="307.20" y="370.5" text-anchor="middle" font-family="Liberation Serif" font-weight="bold" font-size="5.8" fill="#333">1.2</text>
<text x="346.50" y="370.5" text-anchor="middle" font-family="Liberation Serif" font-weight="bold" font-size="5.8" fill="#333">1.5</text>
<text x="385.80" y="370.5" text-anchor="middle" font-family="Liberation Serif" font-weight="bold" font-size="5.8" fill="#333">1.8</text>
<text x="425.10" y="370.5" text-anchor="middle" font-family="Liberation Serif" font-weight="bold" font-size="5.8" fill="#333">2.1</text>
<text x="307.8" y="214.7" textLength="105.69999999999999" lengthAdjust="spacingAndGlyphs" font-family="Liberation Serif" font-weight="bold" font-size="8.6" fill="#111">Average particle size = 1.31 µm</text>
<text x="415.5" y="232.9" textLength="14.399999999999977" lengthAdjust="spacingAndGlyphs" font-family="Liberation Serif" font-weight="bold" font-size="13" fill="#0a0a14">(5)</text>
<text transform="translate(218.3,286.7) rotate(-90)" x="0" y="2.6" text-anchor="middle" textLength="33.6" lengthAdjust="spacingAndGlyphs" font-family="Liberation Serif" font-weight="bold" font-style="italic" font-size="8" fill="#222">Count (%)</text>
<text x="318.0" y="382.0" textLength="30.399999999999977" lengthAdjust="spacingAndGlyphs" font-family="Liberation Serif" font-weight="bold" font-style="italic" font-size="8" fill="#222">Size (µm)</text>
<g clip-path="url(#cl6)">
<rect x="473.70" y="337.10" width="11.00" height="23.70" fill="#fdbfc0"/>
<rect x="498.70" y="217.30" width="10.20" height="143.50" fill="#fdbfc0"/>
<rect x="522.80" y="313.00" width="10.90" height="47.80" fill="#fdbfc0"/>
<rect x="546.80" y="301.30" width="10.80" height="59.50" fill="#fdbfc0"/>
<rect x="571.00" y="349.10" width="10.70" height="11.70" fill="#fdbfc0"/>
<rect x="595.90" y="336.80" width="10.10" height="24.00" fill="#fdbfc0"/>
<rect x="620.10" y="349.10" width="10.50" height="11.70" fill="#fdbfc0"/>
<rect x="644.10" y="349.10" width="10.80" height="11.70" fill="#fdbfc0"/>
<path d="M481.3 345.7h0M481.3 353.7h0M477.3 341.7h0M477.3 349.7h0M477.3 357.7h0M505.3 225.7h0M505.3 233.7h0M505.3 241.7h0M505.3 249.7h0M505.3 257.7h0M505.3 265.7h0M505.3 273.7h0M505.3 281.7h0M505.3 289.7h0M505.3 297.7h0M505.3 305.7h0M505.3 313.7h0M505.3 321.7h0M505.3 329.7h0M505.3 337.7h0M505.3 345.7h0M505.3 353.7h0M501.3 221.7h0M501.3 229.7h0M501.3 237.7h0M501.3 245.7h0M501.3 253.7h0M501.3 261.7h0M501.3 269.7h0M501.3 277.7h0M501.3 285.7h0M501.3 293.7h0M501.3 301.7h0M501.3 309.7h0M501.3 317.7h0M501.3 325.7h0M501.3 333.7h0M501.3 341.7h0M501.3 349.7h0M501.3 357.7h0M529.3 321.7h0M529.3 329.7h0M529.3 337.7h0M529.3 345.7h0M529.3 353.7h0M525.3 317.7h0M525.3 325.7h0M525.3 333.7h0M525.3 341.7h0M525.3 349.7h0M525.3 357.7h0M553.3 305.7h0M553.3 313.7h0M553.3 321.7h0M553.3 329.7h0M553.3 337.7h0M553.3 345.7h0M553.3 353.7h0M549.3 309.7h0M549.3 317.7h0M549.3 325.7h0M549.3 333.7h0M549.3 341.7h0M549.3 349.7h0M549.3 357.7h0M577.3 353.7h0M573.3 357.7h0M601.3 345.7h0M601.3 353.7h0M597.3 341.7h0M597.3 349.7h0M597.3 357.7h0M605.3 341.7h0M605.3 349.7h0M605.3 357.7h0M625.3 353.7h0M621.3 357.7h0M629.3 357.7h0M649.3 353.7h0M645.3 357.7h0M653.3 357.7h0" stroke="#ffd02a" stroke-width="1.7" stroke-linecap="round"/>
<polyline points="467.20,314.04 468.17,312.49 469.14,310.91 470.11,309.30 471.09,307.67 472.06,306.01 473.03,304.33 474.00,302.63 474.97,300.90 475.94,299.15 476.91,297.39 477.89,295.60 478.86,293.80 479.83,291.97 480.80,290.14 481.77,288.29 482.74,286.43 483.72,284.56 484.69,282.67 485.66,280.78 486.63,278.89 487.60,276.99 488.57,275.09 489.54,273.19 490.52,271.29 491.49,269.39 492.46,267.49 493.43,265.61 494.40,263.73 495.37,261.87 496.34,260.01 497.32,258.17 498.29,256.35 499.26,254.55 500.23,252.77 501.20,251.01 502.17,249.28 503.15,247.58 504.12,245.91 505.09,244.26 506.06,242.65 507.03,241.08 508.00,239.55 508.97,238.05 509.95,236.60 510.92,235.19 511.89,233.82 512.86,232.50 513.83,231.23 514.80,230.02 515.77,228.85 516.75,227.74 517.72,226.68 518.69,225.69 519.66,224.75 520.63,223.87 521.60,223.05 522.58,222.29 523.55,221.59 524.52,220.96 525.49,220.40 526.46,219.90 527.43,219.47 528.40,219.10 529.38,218.81 530.35,218.58 531.32,218.42 532.29,218.32 533.26,218.30 534.23,218.35 535.20,218.46 536.18,218.65 537.15,218.90 538.12,219.22 539.09,219.60 540.06,220.06 541.03,220.58 542.01,221.17 542.98,221.82 543.95,222.53 544.92,223.31 545.89,224.15 546.86,225.05 547.83,226.01 548.81,227.03 549.78,228.10 550.75,229.23 551.72,230.42 552.69,231.65 553.66,232.94 554.63,234.27 555.61,235.65 556.58,237.08 557.55,238.54 558.52,240.05 559.49,241.60 560.46,243.19 561.44,244.81 562.41,246.46 563.38,248.14 564.35,249.86 565.32,251.60 566.29,253.36 567.26,255.15 568.24,256.96 569.21,258.79 570.18,260.63 571.15,262.49 572.12,264.36 573.09,266.24 574.06,268.12 575.04,270.02 576.01,271.92 576.98,273.82 577.95,275.72 578.92,277.62 579.89,279.52 580.87,281.42 581.84,283.30 582.81,285.18 583.78,287.05 584.75,288.91 585.72,290.75 586.69,292.58 587.67,294.40 588.64,296.20 589.61,297.98 590.58,299.74 591.55,301.48 592.52,303.20 593.50,304.90 594.47,306.57 595.44,308.22 596.41,309.84 597.38,311.44 598.35,313.01 599.32,314.55 600.30,316.07 601.27,317.56 602.24,319.01 603.21,320.44 604.18,321.84 605.15,323.21 606.12,324.55 607.10,325.86 608.07,327.14 609.04,328.38 610.01,329.60 610.98,330.78 611.95,331.94 612.92,333.06 613.90,334.16 614.87,335.22 615.84,336.25 616.81,337.26 617.78,338.23 618.75,339.17 619.73,340.09 620.70,340.98 621.67,341.83 622.64,342.66 623.61,343.47 624.58,344.24 625.55,344.99 626.53,345.72 627.50,346.41 628.47,347.08 629.44,347.73 630.41,348.36 631.38,348.96 632.36,349.53 633.33,350.09 634.30,350.62 635.27,351.13 636.24,351.62 637.21,352.10 638.18,352.55 639.16,352.98 640.13,353.39 641.10,353.79 642.07,354.17 643.04,354.53 644.01,354.88 644.98,355.21 645.96,355.52 646.93,355.82 647.90,356.11 648.87,356.38 649.84,356.64 650.81,356.89 651.78,357.12 652.76,357.34 653.73,357.56 654.70,357.76 655.67,357.95 656.64,358.13 657.61,358.30 658.59,358.46 659.56,358.62 660.53,358.76 661.50,358.90" fill="none" stroke="#111111" stroke-width="1.05"/>
</g>
<rect x="467.2" y="206.8" width="194.3" height="154.0" fill="none" stroke="#4a4a4a" stroke-width="1.5"/>
<line x1="467.20" y1="360.8" x2="467.20" y2="362.8" stroke="#4a4a4a" stroke-width="1"/>
<line x1="491.49" y1="360.8" x2="491.49" y2="362.8" stroke="#4a4a4a" stroke-width="1"/>
<line x1="515.77" y1="360.8" x2="515.77" y2="362.8" stroke="#4a4a4a" stroke-width="1"/>
<line x1="540.06" y1="360.8" x2="540.06" y2="362.8" stroke="#4a4a4a" stroke-width="1"/>
<line x1="564.35" y1="360.8" x2="564.35" y2="362.8" stroke="#4a4a4a" stroke-width="1"/>
<line x1="588.64" y1="360.8" x2="588.64" y2="362.8" stroke="#4a4a4a" stroke-width="1"/>
<line x1="612.92" y1="360.8" x2="612.92" y2="362.8" stroke="#4a4a4a" stroke-width="1"/>
<line x1="637.21" y1="360.8" x2="637.21" y2="362.8" stroke="#4a4a4a" stroke-width="1"/>
<line x1="661.50" y1="360.8" x2="661.50" y2="362.8" stroke="#4a4a4a" stroke-width="1"/>
<text x="467.20" y="370.2" text-anchor="middle" font-family="Liberation Sans" font-size="7" fill="#333">0</text>
<text x="491.49" y="370.2" text-anchor="middle" font-family="Liberation Sans" font-size="7" fill="#333">1</text>
<text x="515.77" y="370.2" text-anchor="middle" font-family="Liberation Sans" font-size="7" fill="#333">2</text>
<text x="540.06" y="370.2" text-anchor="middle" font-family="Liberation Sans" font-size="7" fill="#333">3</text>
<text x="564.35" y="370.2" text-anchor="middle" font-family="Liberation Sans" font-size="7" fill="#333">4</text>
<text x="588.64" y="370.2" text-anchor="middle" font-family="Liberation Sans" font-size="7" fill="#333">5</text>
<text x="612.92" y="370.2" text-anchor="middle" font-family="Liberation Sans" font-size="7" fill="#333">6</text>
<text x="637.21" y="370.2" text-anchor="middle" font-family="Liberation Sans" font-size="7" fill="#333">7</text>
<text x="661.50" y="370.2" text-anchor="middle" font-family="Liberation Sans" font-size="7" fill="#333">8</text>
<text x="536.7" y="214.7" textLength="98.59999999999991" lengthAdjust="spacingAndGlyphs" font-family="Liberation Serif" font-weight="bold" font-size="8.6" fill="#111">Average particle size = 2.78 µm</text>
<text x="641.5" y="231.2" textLength="12.600000000000023" lengthAdjust="spacingAndGlyphs" font-family="Liberation Serif" font-weight="bold" font-size="13" fill="#0a0a14">(6)</text>
<text transform="translate(459.9,283.3) rotate(-90)" x="0" y="2.6" text-anchor="middle" textLength="31.3" lengthAdjust="spacingAndGlyphs" font-family="Liberation Serif" font-weight="bold" font-style="italic" font-size="8" fill="#222">Count (%)</text>
<text x="551.0" y="381.8" textLength="26.200000000000045" lengthAdjust="spacingAndGlyphs" font-family="Liberation Serif" font-weight="bold" font-style="italic" font-size="8" fill="#222">Size (µm)</text></g></svg>
</body></html>
